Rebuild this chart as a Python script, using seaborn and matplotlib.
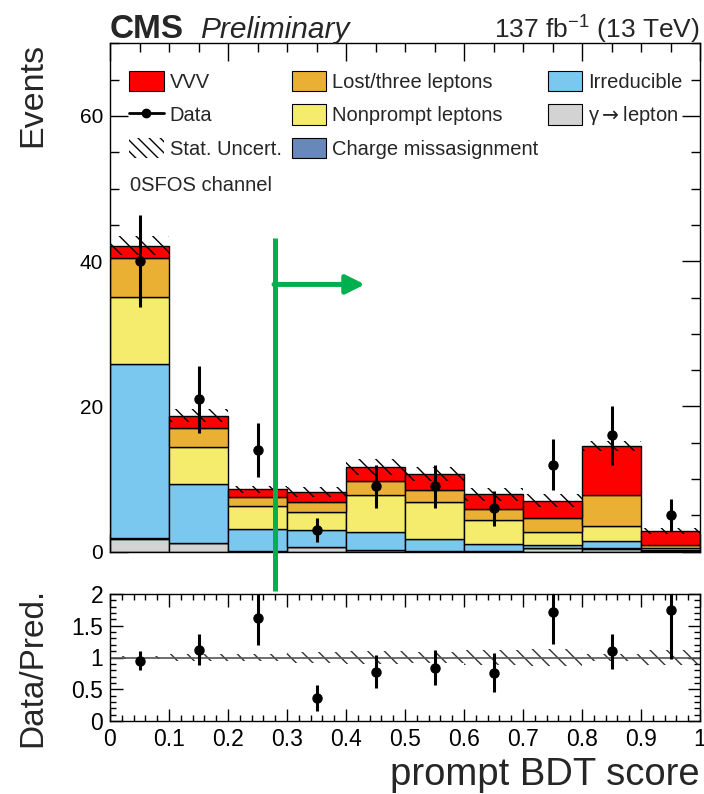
import numpy as np
import pandas as pd
import matplotlib
matplotlib.use("Agg")
import matplotlib.pyplot as plt
import seaborn as sns
from matplotlib.patches import Patch
from matplotlib.lines import Line2D
from matplotlib.ticker import MultipleLocator, FuncFormatter

# ---------------- data ----------------
bin_edges = [0.0, 0.1, 0.2, 0.3, 0.4, 0.5, 0.6, 0.7, 0.8, 0.9, 1.0]
bin_centers = [0.05, 0.15, 0.25, 0.35, 0.45, 0.55, 0.65, 0.75, 0.85, 0.95]

gamma_lepton = [1.75, 1.2, 0.1, 0.6, 0.2, 0.1, 0.1, 0.5, 0.4, 0.1]
charge_mis = [0.1, 0.05, 0.02, 0.02, 0.05, 0.02, 0.02, 0.05, 0.05, 0.01]
irreducible = [24.05, 8.05, 2.98, 2.38, 2.45, 1.63, 0.93, 0.4, 1.05, 0.09]
nonprompt = [9.2, 5.1, 3.2, 2.5, 5.1, 5.05, 3.35, 1.8, 2.1, 0.3]
lost_three = [5.4, 2.6, 1.2, 1.3, 2.0, 1.7, 1.5, 1.85, 4.2, 0.45]
vvv = [1.6, 1.7, 1.1, 1.4, 1.8, 2.2, 2.0, 2.4, 6.8, 1.9]
stat_unc = [1.3, 0.9, 0.45, 0.7, 1.1, 0.9, 0.9, 0.9, 0.7, 0.35]

data_counts = [40, 21, 14, 3, 9, 9, 6, 12, 16, 5]
data_err = [6.3, 4.6, 3.7, 1.7, 3.0, 3.0, 2.4, 3.5, 4.0, 2.2]

proc_names = ["VVV", "Lost/three leptons", "Nonprompt leptons", "Irreducible",
              "Charge missasignment", "gamma_lepton"]
proc_values = [vvv, lost_three, nonprompt, irreducible, charge_mis, gamma_lepton]
proc_colors = ["#FF0000", "#E9B033", "#F5EC6E", "#7AC7F0", "#6888BA", "#D3D3D3"]

# ---------------- style ----------------
sns.set_theme(style="ticks")
plt.rcParams['font.family'] = ['Liberation Sans', 'DejaVu Sans']
plt.rcParams['mathtext.fontset'] = 'dejavusans'
plt.rcParams['hatch.linewidth'] = 1.0

fig = plt.figure(figsize=(7.04, 7.94), dpi=100)
ax = fig.add_axes([110/704, 1-551.7/794, 590/704, 508.4/794])
rax = fig.add_axes([110/704, 1-721/794, 590/704, 127/794])

# ---------------- stacked histogram ----------------
rows = []
for name, vals in zip(proc_names, proc_values):
    for c, v in zip(bin_centers, vals):
        rows.append({"x": c, "w": v, "process": name})
df = pd.DataFrame(rows)

sns.histplot(data=df, x="x", weights="w", hue="process", hue_order=proc_names,
             multiple="stack", bins=bin_edges, palette=dict(zip(proc_names, proc_colors)),
             edgecolor="black", linewidth=1.0, alpha=1.0, shrink=1.0,
             legend=False, ax=ax)

total = np.sum(np.array(proc_values), axis=0)
unc = np.array(stat_unc)
ax.bar(bin_centers, 2*unc, bottom=total-unc, width=0.1, fill=False,
       hatch='\\\\', edgecolor='black', linewidth=0)

ax.errorbar(bin_centers, data_counts, yerr=data_err, fmt='o', color='black',
            ms=6.5, elinewidth=2.2, capsize=0, zorder=5)

ax.set_xlim(0, 1)
ax.set_ylim(0, 70)
ax.set_xlabel("")
ax.set_ylabel("Events", fontsize=24.5, loc='top')
ax.yaxis.set_label_coords(-0.105, 1.0)
ax.xaxis.set_major_locator(MultipleLocator(0.2))
ax.xaxis.set_minor_locator(MultipleLocator(0.05))
ax.yaxis.set_major_locator(MultipleLocator(20))
ax.yaxis.set_minor_locator(MultipleLocator(5))
ax.tick_params(axis='both', which='both', direction='in', top=True, right=True,
               colors='black', width=1)
ax.tick_params(axis='both', which='major', length=13, labelsize=15, pad=5)
ax.tick_params(axis='both', which='minor', length=6.5)
ax.tick_params(axis='x', labelbottom=False)
for s in ax.spines.values():
    s.set_color('black'); s.set_linewidth(1)

# ---------------- green cut marker ----------------
green = '#00B04F'
ax.plot([0.28, 0.28], [-5.4, 43.2], color=green, lw=3.6, clip_on=False, zorder=6,
        solid_capstyle='butt')
ax.annotate('', xy=(0.432, 36.8), xytext=(0.278, 36.8),
            arrowprops=dict(arrowstyle='-|>', color=green, lw=3.6,
                            mutation_scale=28, shrinkA=0, shrinkB=0), zorder=6)

# ---------------- legend ----------------
handles = [
    Patch(facecolor=proc_colors[0], edgecolor='black', lw=0.8),
    Line2D([0], [0], color='black', lw=2, marker='o', ms=6),
    Patch(facecolor='none', edgecolor='black', hatch='\\\\\\', lw=0),
    Patch(facecolor=proc_colors[1], edgecolor='black', lw=0.8),
    Patch(facecolor=proc_colors[2], edgecolor='black', lw=0.8),
    Patch(facecolor=proc_colors[4], edgecolor='black', lw=0.8),
    Patch(facecolor=proc_colors[3], edgecolor='black', lw=0.8),
    Patch(facecolor=proc_colors[5], edgecolor='black', lw=0.8),
]
labels = ["VVV", "Data", "Stat. Uncert.", "Lost/three leptons", "Nonprompt leptons",
          "Charge missasignment", "Irreducible", "\u03b3$\\rightarrow$lepton"]
ax.legend(handles, labels, ncol=3, loc='upper left', bbox_to_anchor=(0.033, 0.946),
          frameon=False, fontsize=14.5, handlelength=1.69, handleheight=1.19,
          handletextpad=0.3, labelspacing=0.62, columnspacing=0.51, borderpad=0,
          borderaxespad=0)
ax.text(0.034, 0.721, "0SFOS channel", transform=ax.transAxes, fontsize=14.5,
        va='center', ha='left')

# ---------------- header ----------------
fig.text(110/704, 1-38/794, "CMS", fontsize=24, fontweight='bold', va='baseline')
fig.text(200/704, 1-38/794, "Preliminary", fontsize=21.5, fontstyle='italic', va='baseline')
fig.text(700/704, 1-38/794, r"137 fb$^{\mathregular{-1}}$ (13 TeV)", fontsize=19,
         ha='right', va='baseline')

# ---------------- ratio panel ----------------
ratio = np.array(data_counts) / total
ratio_err = np.array(data_err) / total
rel = unc / total
rax.bar(bin_centers, 2*rel, bottom=1-rel, width=0.1, fill=False, hatch='\\\\',
        edgecolor='#333333', linewidth=0)
rax.axhline(1.0, color='#555555', lw=1.2)
rax.errorbar(bin_centers, ratio, yerr=ratio_err, fmt='o', color='black', ms=6.5,
             elinewidth=2.2, capsize=0, zorder=5)
rax.set_xlim(0, 1)
rax.set_ylim(0, 2)
rax.xaxis.set_major_locator(MultipleLocator(0.1))
rax.xaxis.set_minor_locator(MultipleLocator(0.02))
rax.yaxis.set_major_locator(MultipleLocator(0.5))
rax.yaxis.set_minor_locator(MultipleLocator(0.1))
fmt = FuncFormatter(lambda v, p: f"{v:g}")
rax.xaxis.set_major_formatter(fmt)
rax.yaxis.set_major_formatter(fmt)
rax.tick_params(axis='both', which='both', direction='in', top=True, right=True,
                colors='black', width=1)
rax.tick_params(axis='both', which='major', length=9, labelsize=16.5, pad=5)
rax.tick_params(axis='both', which='minor', length=4.5)
for s in rax.spines.values():
    s.set_color('black'); s.set_linewidth(1)
rax.set_ylabel("Data/Pred.", fontsize=24)
rax.yaxis.set_label_coords(-0.105, 0.42)
rax.set_xlabel("prompt BDT score", fontsize=27.5, loc='right')
rax.xaxis.set_label_coords(1.0, -0.285)

fig.savefig("out.png", dpi=100)
